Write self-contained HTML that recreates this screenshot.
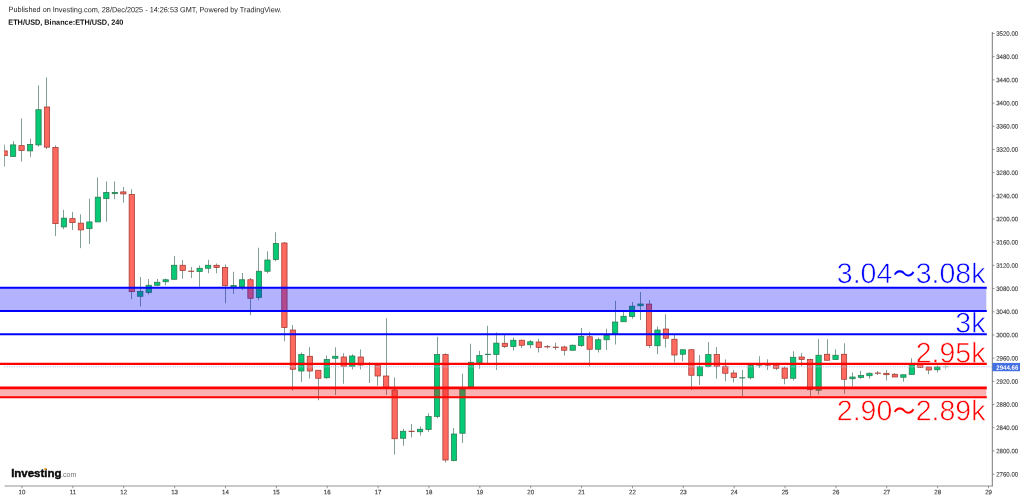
<!DOCTYPE html>
<html lang="en"><head><meta charset="utf-8"><title>ETH/USD chart</title>
<style>html,body{margin:0;padding:0;background:#fff}body{width:1024px;height:499px;overflow:hidden;position:relative;font-family:"Liberation Sans","Noto Sans CJK JP",sans-serif}svg{position:absolute;left:0;top:0;display:block}text{font-family:"Liberation Sans","Noto Sans CJK JP",sans-serif}</style></head><body>
<svg width="1024" height="499" viewBox="0 0 1024 499">
<rect width="1024" height="499" fill="#fff"/>
<clipPath id="cp"><rect x="4.1" y="30" width="987.6" height="456"/></clipPath><g id="candles" clip-path="url(#cp)">
<line x1="4.50" x2="4.50" y1="144.65" y2="166.65" stroke="#74948a" stroke-width="0.9"/>
<rect x="1.95" y="150.90" width="5.30" height="4.75" fill="#ff6a60" stroke="#a03830" stroke-width="0.75"/>
<line x1="13.50" x2="13.50" y1="141.15" y2="156.40" stroke="#74948a" stroke-width="0.9"/>
<rect x="10.43" y="144.90" width="5.30" height="11.50" fill="#06c975" stroke="#2a7a50" stroke-width="0.75"/>
<line x1="21.50" x2="21.50" y1="118.40" y2="161.65" stroke="#74948a" stroke-width="0.9"/>
<rect x="18.91" y="145.65" width="5.30" height="4.75" fill="#ff6a60" stroke="#a03830" stroke-width="0.75"/>
<line x1="30.50" x2="30.50" y1="138.65" y2="156.90" stroke="#74948a" stroke-width="0.9"/>
<rect x="27.39" y="144.40" width="5.30" height="6.50" fill="#06c975" stroke="#2a7a50" stroke-width="0.75"/>
<line x1="38.50" x2="38.50" y1="85.40" y2="146.65" stroke="#74948a" stroke-width="0.9"/>
<rect x="35.87" y="109.70" width="5.30" height="35.20" fill="#06c975" stroke="#2a7a50" stroke-width="0.75"/>
<line x1="46.50" x2="46.50" y1="77.40" y2="149.15" stroke="#74948a" stroke-width="0.9"/>
<rect x="44.34" y="107.00" width="5.30" height="40.15" fill="#ff6a60" stroke="#a03830" stroke-width="0.75"/>
<line x1="55.50" x2="55.50" y1="145.40" y2="236.15" stroke="#74948a" stroke-width="0.9"/>
<rect x="52.82" y="147.40" width="5.30" height="76.25" fill="#ff6a60" stroke="#a03830" stroke-width="0.75"/>
<line x1="63.50" x2="63.50" y1="209.90" y2="229.15" stroke="#74948a" stroke-width="0.9"/>
<rect x="61.30" y="218.15" width="5.30" height="8.75" fill="#06c975" stroke="#2a7a50" stroke-width="0.75"/>
<line x1="72.50" x2="72.50" y1="211.90" y2="229.90" stroke="#74948a" stroke-width="0.9"/>
<rect x="69.78" y="218.65" width="5.30" height="4.00" fill="#ff6a60" stroke="#a03830" stroke-width="0.75"/>
<line x1="80.50" x2="80.50" y1="214.40" y2="248.15" stroke="#74948a" stroke-width="0.9"/>
<rect x="78.26" y="223.15" width="5.30" height="6.75" fill="#ff6a60" stroke="#a03830" stroke-width="0.75"/>
<line x1="89.50" x2="89.50" y1="198.65" y2="244.15" stroke="#74948a" stroke-width="0.9"/>
<rect x="86.74" y="221.90" width="5.30" height="6.75" fill="#06c975" stroke="#2a7a50" stroke-width="0.75"/>
<line x1="97.50" x2="97.50" y1="177.40" y2="221.90" stroke="#74948a" stroke-width="0.9"/>
<rect x="95.22" y="197.15" width="5.30" height="24.75" fill="#06c975" stroke="#2a7a50" stroke-width="0.75"/>
<line x1="106.50" x2="106.50" y1="181.40" y2="221.65" stroke="#74948a" stroke-width="0.9"/>
<rect x="103.70" y="192.40" width="5.30" height="6.25" fill="#06c975" stroke="#2a7a50" stroke-width="0.75"/>
<line x1="114.50" x2="114.50" y1="181.40" y2="199.15" stroke="#74948a" stroke-width="0.9"/>
<rect x="112.18" y="192.40" width="5.30" height="1.25" fill="#06c975" stroke="#2a7a50" stroke-width="0.75"/>
<line x1="123.50" x2="123.50" y1="186.90" y2="202.65" stroke="#74948a" stroke-width="0.9"/>
<rect x="120.66" y="191.90" width="5.30" height="2.00" fill="#ff6a60" stroke="#a03830" stroke-width="0.75"/>
<line x1="131.50" x2="131.50" y1="189.15" y2="299.15" stroke="#74948a" stroke-width="0.9"/>
<rect x="129.13" y="194.40" width="5.30" height="97.25" fill="#ff6a60" stroke="#a03830" stroke-width="0.75"/>
<line x1="140.50" x2="140.50" y1="277.00" y2="306.50" stroke="#74948a" stroke-width="0.9"/>
<rect x="137.61" y="291.50" width="5.30" height="4.75" fill="#06c975" stroke="#2a7a50" stroke-width="0.75"/>
<line x1="148.50" x2="148.50" y1="279.00" y2="294.50" stroke="#74948a" stroke-width="0.9"/>
<rect x="146.09" y="285.25" width="5.30" height="7.25" fill="#06c975" stroke="#2a7a50" stroke-width="0.75"/>
<line x1="157.50" x2="157.50" y1="279.00" y2="286.25" stroke="#74948a" stroke-width="0.9"/>
<rect x="154.57" y="282.25" width="5.30" height="3.00" fill="#06c975" stroke="#2a7a50" stroke-width="0.75"/>
<line x1="165.50" x2="165.50" y1="278.50" y2="285.25" stroke="#74948a" stroke-width="0.9"/>
<rect x="163.05" y="279.75" width="5.30" height="2.00" fill="#06c975" stroke="#2a7a50" stroke-width="0.75"/>
<line x1="174.50" x2="174.50" y1="256.00" y2="280.00" stroke="#74948a" stroke-width="0.9"/>
<rect x="171.53" y="265.25" width="5.30" height="14.00" fill="#06c975" stroke="#2a7a50" stroke-width="0.75"/>
<line x1="182.50" x2="182.50" y1="260.00" y2="278.75" stroke="#74948a" stroke-width="0.9"/>
<rect x="180.01" y="265.25" width="5.30" height="5.25" fill="#ff6a60" stroke="#a03830" stroke-width="0.75"/>
<line x1="191.50" x2="191.50" y1="267.00" y2="278.00" stroke="#74948a" stroke-width="0.9"/>
<rect x="188.19" y="270.70" width="5.90" height="1.1" fill="#a03830"/>
<line x1="199.50" x2="199.50" y1="265.50" y2="286.75" stroke="#74948a" stroke-width="0.9"/>
<rect x="196.97" y="268.25" width="5.30" height="3.25" fill="#06c975" stroke="#2a7a50" stroke-width="0.75"/>
<line x1="208.50" x2="208.50" y1="259.75" y2="273.25" stroke="#74948a" stroke-width="0.9"/>
<rect x="205.45" y="265.25" width="5.30" height="3.00" fill="#06c975" stroke="#2a7a50" stroke-width="0.75"/>
<line x1="216.50" x2="216.50" y1="263.50" y2="273.25" stroke="#74948a" stroke-width="0.9"/>
<rect x="213.92" y="265.25" width="5.30" height="2.25" fill="#ff6a60" stroke="#a03830" stroke-width="0.75"/>
<line x1="225.50" x2="225.50" y1="264.50" y2="303.25" stroke="#74948a" stroke-width="0.9"/>
<rect x="222.40" y="267.50" width="5.30" height="18.25" fill="#ff6a60" stroke="#a03830" stroke-width="0.75"/>
<line x1="233.50" x2="233.50" y1="271.75" y2="293.75" stroke="#74948a" stroke-width="0.9"/>
<rect x="230.88" y="285.50" width="5.30" height="1.25" fill="#06c975" stroke="#2a7a50" stroke-width="0.75"/>
<line x1="242.50" x2="242.50" y1="273.00" y2="290.00" stroke="#74948a" stroke-width="0.9"/>
<rect x="239.36" y="279.75" width="5.30" height="7.00" fill="#06c975" stroke="#2a7a50" stroke-width="0.75"/>
<line x1="250.50" x2="250.50" y1="278.00" y2="315.25" stroke="#74948a" stroke-width="0.9"/>
<rect x="247.84" y="279.75" width="5.30" height="18.50" fill="#ff6a60" stroke="#a03830" stroke-width="0.75"/>
<line x1="258.50" x2="258.50" y1="247.75" y2="300.25" stroke="#74948a" stroke-width="0.9"/>
<rect x="256.32" y="271.25" width="5.30" height="26.25" fill="#06c975" stroke="#2a7a50" stroke-width="0.75"/>
<line x1="267.50" x2="267.50" y1="251.25" y2="273.50" stroke="#74948a" stroke-width="0.9"/>
<rect x="264.80" y="260.00" width="5.30" height="11.25" fill="#06c975" stroke="#2a7a50" stroke-width="0.75"/>
<line x1="275.50" x2="275.50" y1="232.25" y2="261.25" stroke="#74948a" stroke-width="0.9"/>
<rect x="273.28" y="243.50" width="5.30" height="16.00" fill="#06c975" stroke="#2a7a50" stroke-width="0.75"/>
<line x1="284.50" x2="284.50" y1="242.00" y2="341.25" stroke="#74948a" stroke-width="0.9"/>
<rect x="281.76" y="243.00" width="5.30" height="84.50" fill="#ff6a60" stroke="#a03830" stroke-width="0.75"/>
<line x1="292.50" x2="292.50" y1="325.00" y2="390.50" stroke="#74948a" stroke-width="0.9"/>
<rect x="290.24" y="330.00" width="5.30" height="39.25" fill="#ff6a60" stroke="#a03830" stroke-width="0.75"/>
<line x1="301.50" x2="301.50" y1="352.50" y2="382.00" stroke="#74948a" stroke-width="0.9"/>
<rect x="298.72" y="354.50" width="5.30" height="16.50" fill="#06c975" stroke="#2a7a50" stroke-width="0.75"/>
<line x1="309.50" x2="309.50" y1="347.25" y2="378.50" stroke="#74948a" stroke-width="0.9"/>
<rect x="307.19" y="356.25" width="5.30" height="14.75" fill="#ff6a60" stroke="#a03830" stroke-width="0.75"/>
<line x1="318.50" x2="318.50" y1="370.25" y2="400.25" stroke="#74948a" stroke-width="0.9"/>
<rect x="315.67" y="370.25" width="5.30" height="8.00" fill="#ff6a60" stroke="#a03830" stroke-width="0.75"/>
<line x1="326.50" x2="326.50" y1="355.50" y2="378.75" stroke="#74948a" stroke-width="0.9"/>
<rect x="324.15" y="359.50" width="5.30" height="18.25" fill="#06c975" stroke="#2a7a50" stroke-width="0.75"/>
<line x1="335.50" x2="335.50" y1="347.25" y2="395.00" stroke="#74948a" stroke-width="0.9"/>
<rect x="332.63" y="356.25" width="5.30" height="2.00" fill="#06c975" stroke="#2a7a50" stroke-width="0.75"/>
<line x1="343.50" x2="343.50" y1="353.25" y2="383.75" stroke="#74948a" stroke-width="0.9"/>
<rect x="341.11" y="357.00" width="5.30" height="9.25" fill="#ff6a60" stroke="#a03830" stroke-width="0.75"/>
<line x1="352.50" x2="352.50" y1="354.25" y2="369.50" stroke="#74948a" stroke-width="0.9"/>
<rect x="349.59" y="356.00" width="5.30" height="10.25" fill="#06c975" stroke="#2a7a50" stroke-width="0.75"/>
<line x1="360.50" x2="360.50" y1="349.50" y2="369.50" stroke="#74948a" stroke-width="0.9"/>
<rect x="358.07" y="357.00" width="5.30" height="8.00" fill="#ff6a60" stroke="#a03830" stroke-width="0.75"/>
<line x1="369.50" x2="369.50" y1="362.00" y2="383.00" stroke="#74948a" stroke-width="0.9"/>
<rect x="366.25" y="363.70" width="5.90" height="1.1" fill="#a03830"/>
<line x1="377.50" x2="377.50" y1="363.00" y2="385.75" stroke="#74948a" stroke-width="0.9"/>
<rect x="375.03" y="365.00" width="5.30" height="11.00" fill="#ff6a60" stroke="#a03830" stroke-width="0.75"/>
<line x1="386.50" x2="386.50" y1="318.25" y2="395.00" stroke="#74948a" stroke-width="0.9"/>
<rect x="383.50" y="376.00" width="5.30" height="11.50" fill="#ff6a60" stroke="#a03830" stroke-width="0.75"/>
<line x1="394.50" x2="394.50" y1="377.50" y2="454.50" stroke="#74948a" stroke-width="0.9"/>
<rect x="391.98" y="390.00" width="5.30" height="48.75" fill="#ff6a60" stroke="#a03830" stroke-width="0.75"/>
<line x1="403.50" x2="403.50" y1="428.75" y2="445.75" stroke="#74948a" stroke-width="0.9"/>
<rect x="400.46" y="431.25" width="5.30" height="7.00" fill="#06c975" stroke="#2a7a50" stroke-width="0.75"/>
<line x1="411.50" x2="411.50" y1="424.00" y2="437.50" stroke="#74948a" stroke-width="0.9"/>
<rect x="408.64" y="430.82" width="5.90" height="1.1" fill="#a03830"/>
<line x1="420.50" x2="420.50" y1="426.50" y2="435.50" stroke="#74948a" stroke-width="0.9"/>
<rect x="417.42" y="429.25" width="5.30" height="2.50" fill="#06c975" stroke="#2a7a50" stroke-width="0.75"/>
<line x1="428.50" x2="428.50" y1="413.25" y2="431.75" stroke="#74948a" stroke-width="0.9"/>
<rect x="425.90" y="416.50" width="5.30" height="13.00" fill="#06c975" stroke="#2a7a50" stroke-width="0.75"/>
<line x1="437.50" x2="437.50" y1="336.75" y2="418.25" stroke="#74948a" stroke-width="0.9"/>
<rect x="434.38" y="354.50" width="5.30" height="62.00" fill="#06c975" stroke="#2a7a50" stroke-width="0.75"/>
<line x1="445.50" x2="445.50" y1="353.25" y2="462.50" stroke="#74948a" stroke-width="0.9"/>
<rect x="442.86" y="354.50" width="5.30" height="105.50" fill="#ff6a60" stroke="#a03830" stroke-width="0.75"/>
<line x1="453.50" x2="453.50" y1="428.00" y2="461.25" stroke="#74948a" stroke-width="0.9"/>
<rect x="451.34" y="434.00" width="5.30" height="26.50" fill="#06c975" stroke="#2a7a50" stroke-width="0.75"/>
<line x1="462.50" x2="462.50" y1="373.75" y2="443.00" stroke="#74948a" stroke-width="0.9"/>
<rect x="459.82" y="389.00" width="5.30" height="44.25" fill="#06c975" stroke="#2a7a50" stroke-width="0.75"/>
<line x1="470.50" x2="470.50" y1="343.75" y2="387.00" stroke="#74948a" stroke-width="0.9"/>
<rect x="468.30" y="362.25" width="5.30" height="24.75" fill="#06c975" stroke="#2a7a50" stroke-width="0.75"/>
<line x1="479.50" x2="479.50" y1="350.75" y2="368.75" stroke="#74948a" stroke-width="0.9"/>
<rect x="476.77" y="355.50" width="5.30" height="7.25" fill="#06c975" stroke="#2a7a50" stroke-width="0.75"/>
<line x1="487.50" x2="487.50" y1="325.75" y2="365.00" stroke="#74948a" stroke-width="0.9"/>
<rect x="484.95" y="353.82" width="5.90" height="1.1" fill="#2a7a50"/>
<line x1="496.50" x2="496.50" y1="332.50" y2="370.00" stroke="#74948a" stroke-width="0.9"/>
<rect x="493.73" y="343.10" width="5.30" height="11.40" fill="#06c975" stroke="#2a7a50" stroke-width="0.75"/>
<line x1="504.50" x2="504.50" y1="335.00" y2="348.00" stroke="#74948a" stroke-width="0.9"/>
<rect x="502.21" y="343.25" width="5.30" height="3.25" fill="#ff6a60" stroke="#a03830" stroke-width="0.75"/>
<line x1="513.50" x2="513.50" y1="337.50" y2="350.50" stroke="#74948a" stroke-width="0.9"/>
<rect x="510.69" y="340.25" width="5.30" height="6.25" fill="#06c975" stroke="#2a7a50" stroke-width="0.75"/>
<line x1="521.50" x2="521.50" y1="339.50" y2="348.00" stroke="#74948a" stroke-width="0.9"/>
<rect x="519.17" y="340.25" width="5.30" height="5.00" fill="#ff6a60" stroke="#a03830" stroke-width="0.75"/>
<line x1="530.50" x2="530.50" y1="340.00" y2="348.25" stroke="#74948a" stroke-width="0.9"/>
<rect x="527.65" y="341.75" width="5.30" height="3.00" fill="#06c975" stroke="#2a7a50" stroke-width="0.75"/>
<line x1="538.50" x2="538.50" y1="339.00" y2="352.50" stroke="#74948a" stroke-width="0.9"/>
<rect x="536.13" y="342.00" width="5.30" height="5.50" fill="#ff6a60" stroke="#a03830" stroke-width="0.75"/>
<line x1="547.50" x2="547.50" y1="345.00" y2="348.50" stroke="#74948a" stroke-width="0.9"/>
<rect x="544.31" y="346.20" width="5.90" height="1.1" fill="#a03830"/>
<line x1="555.50" x2="555.50" y1="342.50" y2="350.00" stroke="#74948a" stroke-width="0.9"/>
<rect x="552.79" y="346.70" width="5.90" height="1.1" fill="#a03830"/>
<line x1="564.50" x2="564.50" y1="345.50" y2="355.50" stroke="#74948a" stroke-width="0.9"/>
<rect x="561.56" y="347.00" width="5.30" height="3.25" fill="#ff6a60" stroke="#a03830" stroke-width="0.75"/>
<line x1="572.50" x2="572.50" y1="344.50" y2="350.25" stroke="#74948a" stroke-width="0.9"/>
<rect x="570.04" y="345.25" width="5.30" height="5.00" fill="#06c975" stroke="#2a7a50" stroke-width="0.75"/>
<line x1="581.50" x2="581.50" y1="328.00" y2="347.00" stroke="#74948a" stroke-width="0.9"/>
<rect x="578.52" y="336.50" width="5.30" height="9.00" fill="#06c975" stroke="#2a7a50" stroke-width="0.75"/>
<line x1="589.50" x2="589.50" y1="331.75" y2="366.25" stroke="#74948a" stroke-width="0.9"/>
<rect x="587.00" y="336.75" width="5.30" height="12.50" fill="#ff6a60" stroke="#a03830" stroke-width="0.75"/>
<line x1="598.50" x2="598.50" y1="337.50" y2="352.50" stroke="#74948a" stroke-width="0.9"/>
<rect x="595.48" y="339.75" width="5.30" height="9.50" fill="#06c975" stroke="#2a7a50" stroke-width="0.75"/>
<line x1="606.50" x2="606.50" y1="328.75" y2="350.00" stroke="#74948a" stroke-width="0.9"/>
<rect x="603.96" y="335.50" width="5.30" height="4.25" fill="#06c975" stroke="#2a7a50" stroke-width="0.75"/>
<line x1="615.50" x2="615.50" y1="300.75" y2="344.50" stroke="#74948a" stroke-width="0.9"/>
<rect x="612.44" y="322.00" width="5.30" height="11.25" fill="#06c975" stroke="#2a7a50" stroke-width="0.75"/>
<line x1="623.50" x2="623.50" y1="310.00" y2="321.75" stroke="#74948a" stroke-width="0.9"/>
<rect x="620.92" y="316.25" width="5.30" height="5.50" fill="#06c975" stroke="#2a7a50" stroke-width="0.75"/>
<line x1="632.50" x2="632.50" y1="302.00" y2="318.75" stroke="#74948a" stroke-width="0.9"/>
<rect x="629.40" y="306.20" width="5.30" height="10.30" fill="#06c975" stroke="#2a7a50" stroke-width="0.75"/>
<line x1="640.50" x2="640.50" y1="292.00" y2="320.00" stroke="#74948a" stroke-width="0.9"/>
<rect x="637.88" y="304.00" width="5.30" height="1.75" fill="#06c975" stroke="#2a7a50" stroke-width="0.75"/>
<line x1="649.50" x2="649.50" y1="300.00" y2="348.00" stroke="#74948a" stroke-width="0.9"/>
<rect x="646.35" y="304.10" width="5.30" height="41.40" fill="#ff6a60" stroke="#a03830" stroke-width="0.75"/>
<line x1="657.50" x2="657.50" y1="326.50" y2="354.00" stroke="#74948a" stroke-width="0.9"/>
<rect x="654.83" y="330.00" width="5.30" height="15.75" fill="#06c975" stroke="#2a7a50" stroke-width="0.75"/>
<line x1="665.50" x2="665.50" y1="314.25" y2="347.50" stroke="#74948a" stroke-width="0.9"/>
<rect x="663.31" y="329.00" width="5.30" height="9.25" fill="#ff6a60" stroke="#a03830" stroke-width="0.75"/>
<line x1="674.50" x2="674.50" y1="335.00" y2="362.50" stroke="#74948a" stroke-width="0.9"/>
<rect x="671.79" y="339.25" width="5.30" height="15.75" fill="#ff6a60" stroke="#a03830" stroke-width="0.75"/>
<line x1="682.50" x2="682.50" y1="349.75" y2="361.25" stroke="#74948a" stroke-width="0.9"/>
<rect x="680.27" y="349.75" width="5.30" height="4.50" fill="#06c975" stroke="#2a7a50" stroke-width="0.75"/>
<line x1="691.50" x2="691.50" y1="349.00" y2="390.00" stroke="#74948a" stroke-width="0.9"/>
<rect x="688.75" y="349.75" width="5.30" height="25.50" fill="#ff6a60" stroke="#a03830" stroke-width="0.75"/>
<line x1="699.50" x2="699.50" y1="355.00" y2="385.00" stroke="#74948a" stroke-width="0.9"/>
<rect x="697.23" y="366.75" width="5.30" height="9.00" fill="#06c975" stroke="#2a7a50" stroke-width="0.75"/>
<line x1="708.50" x2="708.50" y1="342.00" y2="367.50" stroke="#74948a" stroke-width="0.9"/>
<rect x="705.71" y="354.50" width="5.30" height="12.00" fill="#06c975" stroke="#2a7a50" stroke-width="0.75"/>
<line x1="716.50" x2="716.50" y1="347.00" y2="378.75" stroke="#74948a" stroke-width="0.9"/>
<rect x="714.19" y="354.50" width="5.30" height="11.75" fill="#ff6a60" stroke="#a03830" stroke-width="0.75"/>
<line x1="725.50" x2="725.50" y1="359.40" y2="381.25" stroke="#74948a" stroke-width="0.9"/>
<rect x="722.66" y="366.25" width="5.30" height="7.00" fill="#ff6a60" stroke="#a03830" stroke-width="0.75"/>
<line x1="733.50" x2="733.50" y1="370.00" y2="382.50" stroke="#74948a" stroke-width="0.9"/>
<rect x="731.14" y="373.00" width="5.30" height="4.50" fill="#ff6a60" stroke="#a03830" stroke-width="0.75"/>
<line x1="742.50" x2="742.50" y1="370.00" y2="396.25" stroke="#74948a" stroke-width="0.9"/>
<rect x="739.32" y="377.32" width="5.90" height="1.1" fill="#2a7a50"/>
<line x1="750.50" x2="750.50" y1="364.50" y2="379.50" stroke="#74948a" stroke-width="0.9"/>
<rect x="748.10" y="365.50" width="5.30" height="12.25" fill="#06c975" stroke="#2a7a50" stroke-width="0.75"/>
<line x1="759.50" x2="759.50" y1="356.25" y2="368.00" stroke="#74948a" stroke-width="0.9"/>
<rect x="756.28" y="364.45" width="5.90" height="1.1" fill="#2a7a50"/>
<line x1="767.50" x2="767.50" y1="359.25" y2="370.00" stroke="#74948a" stroke-width="0.9"/>
<rect x="764.76" y="364.45" width="5.90" height="1.1" fill="#a03830"/>
<line x1="776.50" x2="776.50" y1="363.75" y2="370.00" stroke="#74948a" stroke-width="0.9"/>
<rect x="773.54" y="365.00" width="5.30" height="3.25" fill="#ff6a60" stroke="#a03830" stroke-width="0.75"/>
<line x1="784.50" x2="784.50" y1="366.25" y2="384.25" stroke="#74948a" stroke-width="0.9"/>
<rect x="782.02" y="368.00" width="5.30" height="10.25" fill="#ff6a60" stroke="#a03830" stroke-width="0.75"/>
<line x1="793.50" x2="793.50" y1="351.25" y2="380.50" stroke="#74948a" stroke-width="0.9"/>
<rect x="790.50" y="357.25" width="5.30" height="21.00" fill="#06c975" stroke="#2a7a50" stroke-width="0.75"/>
<line x1="801.50" x2="801.50" y1="353.00" y2="366.25" stroke="#74948a" stroke-width="0.9"/>
<rect x="798.98" y="357.00" width="5.30" height="2.50" fill="#ff6a60" stroke="#a03830" stroke-width="0.75"/>
<line x1="810.50" x2="810.50" y1="358.50" y2="396.25" stroke="#74948a" stroke-width="0.9"/>
<rect x="807.45" y="359.50" width="5.30" height="30.20" fill="#ff6a60" stroke="#a03830" stroke-width="0.75"/>
<line x1="818.50" x2="818.50" y1="339.25" y2="394.50" stroke="#74948a" stroke-width="0.9"/>
<rect x="815.93" y="355.25" width="5.30" height="34.95" fill="#06c975" stroke="#2a7a50" stroke-width="0.75"/>
<line x1="827.50" x2="827.50" y1="339.25" y2="360.25" stroke="#74948a" stroke-width="0.9"/>
<rect x="824.41" y="354.25" width="5.30" height="6.00" fill="#ff6a60" stroke="#a03830" stroke-width="0.75"/>
<line x1="835.50" x2="835.50" y1="349.25" y2="359.50" stroke="#74948a" stroke-width="0.9"/>
<rect x="832.89" y="355.25" width="5.30" height="4.25" fill="#06c975" stroke="#2a7a50" stroke-width="0.75"/>
<line x1="844.50" x2="844.50" y1="343.25" y2="393.75" stroke="#74948a" stroke-width="0.9"/>
<rect x="841.37" y="354.25" width="5.30" height="25.00" fill="#ff6a60" stroke="#a03830" stroke-width="0.75"/>
<line x1="852.50" x2="852.50" y1="372.50" y2="386.25" stroke="#74948a" stroke-width="0.9"/>
<rect x="849.85" y="377.00" width="5.30" height="1.75" fill="#06c975" stroke="#2a7a50" stroke-width="0.75"/>
<line x1="860.50" x2="860.50" y1="370.75" y2="378.75" stroke="#74948a" stroke-width="0.9"/>
<rect x="858.33" y="375.50" width="5.30" height="2.00" fill="#06c975" stroke="#2a7a50" stroke-width="0.75"/>
<line x1="869.50" x2="869.50" y1="372.50" y2="378.75" stroke="#74948a" stroke-width="0.9"/>
<rect x="866.81" y="373.25" width="5.30" height="2.50" fill="#06c975" stroke="#2a7a50" stroke-width="0.75"/>
<line x1="877.50" x2="877.50" y1="371.00" y2="375.00" stroke="#74948a" stroke-width="0.9"/>
<rect x="874.99" y="372.60" width="5.90" height="1.1" fill="#a03830"/>
<line x1="886.50" x2="886.50" y1="370.00" y2="380.50" stroke="#74948a" stroke-width="0.9"/>
<rect x="883.77" y="373.30" width="5.30" height="1.40" fill="#ff6a60" stroke="#a03830" stroke-width="0.75"/>
<line x1="894.50" x2="894.50" y1="373.00" y2="377.00" stroke="#74948a" stroke-width="0.9"/>
<rect x="892.25" y="374.25" width="5.30" height="2.75" fill="#ff6a60" stroke="#a03830" stroke-width="0.75"/>
<line x1="903.50" x2="903.50" y1="374.75" y2="381.75" stroke="#74948a" stroke-width="0.9"/>
<rect x="900.72" y="374.75" width="5.30" height="2.50" fill="#06c975" stroke="#2a7a50" stroke-width="0.75"/>
<line x1="911.50" x2="911.50" y1="358.25" y2="374.50" stroke="#74948a" stroke-width="0.9"/>
<rect x="909.20" y="364.75" width="5.30" height="9.75" fill="#06c975" stroke="#2a7a50" stroke-width="0.75"/>
<line x1="920.50" x2="920.50" y1="364.50" y2="367.50" stroke="#74948a" stroke-width="0.9"/>
<rect x="917.68" y="364.50" width="5.30" height="3.00" fill="#ff6a60" stroke="#a03830" stroke-width="0.75"/>
<line x1="928.50" x2="928.50" y1="367.00" y2="374.25" stroke="#74948a" stroke-width="0.9"/>
<rect x="926.16" y="367.00" width="5.30" height="3.00" fill="#ff6a60" stroke="#a03830" stroke-width="0.75"/>
<line x1="937.50" x2="937.50" y1="365.50" y2="372.50" stroke="#74948a" stroke-width="0.9"/>
<rect x="934.64" y="367.00" width="5.30" height="2.75" fill="#06c975" stroke="#2a7a50" stroke-width="0.75"/>
<line x1="945.50" x2="945.50" y1="365.00" y2="370.00" stroke="#74948a" stroke-width="0.9" opacity="0.45"/>
<rect x="942.82" y="366.20" width="5.90" height="1.1" fill="#2a7a50" opacity="0.45"/>
</g>
<text transform="translate(985.40 283.00) rotate(0.03) scale(1 1.0)" font-size="28.5" fill="#0000ff" text-anchor="end" stroke="#fff" stroke-width="0.6">3.04<tspan font-size="22.2" dx="0.6" dy="-1.3" stroke="#0000ff" stroke-width="0.1">～</tspan><tspan dx="0.6" dy="1.3">3.08k</tspan></text>
<text transform="translate(985.40 332.50) rotate(0.03) scale(1 1.0)" font-size="28.5" fill="#0000ff" text-anchor="end" stroke="#fff" stroke-width="0.6">3k</text>
<text transform="translate(985.40 362.50) rotate(0.03) scale(1 1.0)" font-size="28.5" fill="#ff0000" text-anchor="end" stroke="#fff" stroke-width="0.6">2.95k</text>
<text transform="translate(985.40 420.30) rotate(0.03) scale(1 1.0)" font-size="28.5" fill="#ff0000" text-anchor="end" stroke="#fff" stroke-width="0.6">2.90<tspan font-size="22.2" dx="0.6" dy="-1.3" stroke="#ff0000" stroke-width="0.1">～</tspan><tspan dx="0.6" dy="1.3">2.89k</tspan></text>
<line x1="4.2" x2="991.6" y1="366.8" y2="366.8" stroke="#b3c4f1" stroke-width="0.9" stroke-dasharray="1.4 1.0"/>
<rect x="0" y="287.6" width="986.3" height="23.4" fill="#0000ff" fill-opacity="0.3"/>
<rect x="0" y="387.6" width="986.3" height="9.7" fill="#ee0000" fill-opacity="0.3"/>
<line x1="0" x2="986.8" y1="287.75" y2="287.75" stroke="#0000ff" stroke-width="2.2"/>
<line x1="0" x2="986.8" y1="311" y2="311" stroke="#0000ff" stroke-width="2.1"/>
<line x1="0" x2="986.8" y1="334.2" y2="334.2" stroke="#0000ff" stroke-width="2.1"/>
<line x1="0" x2="986.8" y1="363.8" y2="363.8" stroke="#ff0000" stroke-width="2.3"/>
<line x1="0" x2="986.8" y1="387.85" y2="387.85" stroke="#ff0000" stroke-width="2.7"/>
<line x1="0" x2="986.8" y1="397.3" y2="397.3" stroke="#ff0000" stroke-width="2.0"/>
<line x1="992.3" x2="992.3" y1="32" y2="486.4" stroke="#6b6b6b" stroke-width="0.9"/>
<line x1="4.5" x2="992.7" y1="486" y2="486" stroke="#7a7a7a" stroke-width="0.8"/>
<line x1="992.3" x2="994.5" y1="33.50" y2="33.50" stroke="#6b6b6b" stroke-width="0.7"/>
<text transform="translate(996.20 35.80) rotate(0.03) scale(1 1.04)" font-size="6.1" fill="#3c3c3c" stroke="#3c3c3c" stroke-width="0.12">3520.00</text>
<line x1="992.3" x2="994.5" y1="56.69" y2="56.69" stroke="#6b6b6b" stroke-width="0.7"/>
<text transform="translate(996.20 58.99) rotate(0.03) scale(1 1.04)" font-size="6.1" fill="#3c3c3c" stroke="#3c3c3c" stroke-width="0.12">3480.00</text>
<line x1="992.3" x2="994.5" y1="79.88" y2="79.88" stroke="#6b6b6b" stroke-width="0.7"/>
<text transform="translate(996.20 82.18) rotate(0.03) scale(1 1.04)" font-size="6.1" fill="#3c3c3c" stroke="#3c3c3c" stroke-width="0.12">3440.00</text>
<line x1="992.3" x2="994.5" y1="103.07" y2="103.07" stroke="#6b6b6b" stroke-width="0.7"/>
<text transform="translate(996.20 105.37) rotate(0.03) scale(1 1.04)" font-size="6.1" fill="#3c3c3c" stroke="#3c3c3c" stroke-width="0.12">3400.00</text>
<line x1="992.3" x2="994.5" y1="126.26" y2="126.26" stroke="#6b6b6b" stroke-width="0.7"/>
<text transform="translate(996.20 128.56) rotate(0.03) scale(1 1.04)" font-size="6.1" fill="#3c3c3c" stroke="#3c3c3c" stroke-width="0.12">3360.00</text>
<line x1="992.3" x2="994.5" y1="149.45" y2="149.45" stroke="#6b6b6b" stroke-width="0.7"/>
<text transform="translate(996.20 151.75) rotate(0.03) scale(1 1.04)" font-size="6.1" fill="#3c3c3c" stroke="#3c3c3c" stroke-width="0.12">3320.00</text>
<line x1="992.3" x2="994.5" y1="172.64" y2="172.64" stroke="#6b6b6b" stroke-width="0.7"/>
<text transform="translate(996.20 174.94) rotate(0.03) scale(1 1.04)" font-size="6.1" fill="#3c3c3c" stroke="#3c3c3c" stroke-width="0.12">3280.00</text>
<line x1="992.3" x2="994.5" y1="195.83" y2="195.83" stroke="#6b6b6b" stroke-width="0.7"/>
<text transform="translate(996.20 198.13) rotate(0.03) scale(1 1.04)" font-size="6.1" fill="#3c3c3c" stroke="#3c3c3c" stroke-width="0.12">3240.00</text>
<line x1="992.3" x2="994.5" y1="219.02" y2="219.02" stroke="#6b6b6b" stroke-width="0.7"/>
<text transform="translate(996.20 221.32) rotate(0.03) scale(1 1.04)" font-size="6.1" fill="#3c3c3c" stroke="#3c3c3c" stroke-width="0.12">3200.00</text>
<line x1="992.3" x2="994.5" y1="242.21" y2="242.21" stroke="#6b6b6b" stroke-width="0.7"/>
<text transform="translate(996.20 244.51) rotate(0.03) scale(1 1.04)" font-size="6.1" fill="#3c3c3c" stroke="#3c3c3c" stroke-width="0.12">3160.00</text>
<line x1="992.3" x2="994.5" y1="265.40" y2="265.40" stroke="#6b6b6b" stroke-width="0.7"/>
<text transform="translate(996.20 267.70) rotate(0.03) scale(1 1.04)" font-size="6.1" fill="#3c3c3c" stroke="#3c3c3c" stroke-width="0.12">3120.00</text>
<line x1="992.3" x2="994.5" y1="288.59" y2="288.59" stroke="#6b6b6b" stroke-width="0.7"/>
<text transform="translate(996.20 290.89) rotate(0.03) scale(1 1.04)" font-size="6.1" fill="#3c3c3c" stroke="#3c3c3c" stroke-width="0.12">3080.00</text>
<line x1="992.3" x2="994.5" y1="311.78" y2="311.78" stroke="#6b6b6b" stroke-width="0.7"/>
<text transform="translate(996.20 314.08) rotate(0.03) scale(1 1.04)" font-size="6.1" fill="#3c3c3c" stroke="#3c3c3c" stroke-width="0.12">3040.00</text>
<line x1="992.3" x2="994.5" y1="334.97" y2="334.97" stroke="#6b6b6b" stroke-width="0.7"/>
<text transform="translate(996.20 337.27) rotate(0.03) scale(1 1.04)" font-size="6.1" fill="#3c3c3c" stroke="#3c3c3c" stroke-width="0.12">3000.00</text>
<line x1="992.3" x2="994.5" y1="358.16" y2="358.16" stroke="#6b6b6b" stroke-width="0.7"/>
<text transform="translate(996.20 360.46) rotate(0.03) scale(1 1.04)" font-size="6.1" fill="#3c3c3c" stroke="#3c3c3c" stroke-width="0.12">2960.00</text>
<line x1="992.3" x2="994.5" y1="381.35" y2="381.35" stroke="#6b6b6b" stroke-width="0.7"/>
<text transform="translate(996.20 383.65) rotate(0.03) scale(1 1.04)" font-size="6.1" fill="#3c3c3c" stroke="#3c3c3c" stroke-width="0.12">2920.00</text>
<line x1="992.3" x2="994.5" y1="404.54" y2="404.54" stroke="#6b6b6b" stroke-width="0.7"/>
<text transform="translate(996.20 406.84) rotate(0.03) scale(1 1.04)" font-size="6.1" fill="#3c3c3c" stroke="#3c3c3c" stroke-width="0.12">2880.00</text>
<line x1="992.3" x2="994.5" y1="427.73" y2="427.73" stroke="#6b6b6b" stroke-width="0.7"/>
<text transform="translate(996.20 430.03) rotate(0.03) scale(1 1.04)" font-size="6.1" fill="#3c3c3c" stroke="#3c3c3c" stroke-width="0.12">2840.00</text>
<line x1="992.3" x2="994.5" y1="450.92" y2="450.92" stroke="#6b6b6b" stroke-width="0.7"/>
<text transform="translate(996.20 453.22) rotate(0.03) scale(1 1.04)" font-size="6.1" fill="#3c3c3c" stroke="#3c3c3c" stroke-width="0.12">2800.00</text>
<line x1="992.3" x2="994.5" y1="474.11" y2="474.11" stroke="#6b6b6b" stroke-width="0.7"/>
<text transform="translate(996.20 476.41) rotate(0.03) scale(1 1.04)" font-size="6.1" fill="#3c3c3c" stroke="#3c3c3c" stroke-width="0.12">2760.00</text>
<line x1="22.00" x2="22.00" y1="486" y2="488.3" stroke="#6b6b6b" stroke-width="0.7"/>
<text transform="translate(22.00 494.30) rotate(0.03) scale(1 1.04)" font-size="6.1" fill="#3c3c3c" stroke="#3c3c3c" stroke-width="0.15" text-anchor="middle">10</text>
<line x1="72.87" x2="72.87" y1="486" y2="488.3" stroke="#6b6b6b" stroke-width="0.7"/>
<text transform="translate(72.87 494.30) rotate(0.03) scale(1 1.04)" font-size="6.1" fill="#3c3c3c" stroke="#3c3c3c" stroke-width="0.15" text-anchor="middle">11</text>
<line x1="123.74" x2="123.74" y1="486" y2="488.3" stroke="#6b6b6b" stroke-width="0.7"/>
<text transform="translate(123.74 494.30) rotate(0.03) scale(1 1.04)" font-size="6.1" fill="#3c3c3c" stroke="#3c3c3c" stroke-width="0.15" text-anchor="middle">12</text>
<line x1="174.61" x2="174.61" y1="486" y2="488.3" stroke="#6b6b6b" stroke-width="0.7"/>
<text transform="translate(174.61 494.30) rotate(0.03) scale(1 1.04)" font-size="6.1" fill="#3c3c3c" stroke="#3c3c3c" stroke-width="0.15" text-anchor="middle">13</text>
<line x1="225.48" x2="225.48" y1="486" y2="488.3" stroke="#6b6b6b" stroke-width="0.7"/>
<text transform="translate(225.48 494.30) rotate(0.03) scale(1 1.04)" font-size="6.1" fill="#3c3c3c" stroke="#3c3c3c" stroke-width="0.15" text-anchor="middle">14</text>
<line x1="276.35" x2="276.35" y1="486" y2="488.3" stroke="#6b6b6b" stroke-width="0.7"/>
<text transform="translate(276.35 494.30) rotate(0.03) scale(1 1.04)" font-size="6.1" fill="#3c3c3c" stroke="#3c3c3c" stroke-width="0.15" text-anchor="middle">15</text>
<line x1="327.22" x2="327.22" y1="486" y2="488.3" stroke="#6b6b6b" stroke-width="0.7"/>
<text transform="translate(327.22 494.30) rotate(0.03) scale(1 1.04)" font-size="6.1" fill="#3c3c3c" stroke="#3c3c3c" stroke-width="0.15" text-anchor="middle">16</text>
<line x1="378.09" x2="378.09" y1="486" y2="488.3" stroke="#6b6b6b" stroke-width="0.7"/>
<text transform="translate(378.09 494.30) rotate(0.03) scale(1 1.04)" font-size="6.1" fill="#3c3c3c" stroke="#3c3c3c" stroke-width="0.15" text-anchor="middle">17</text>
<line x1="428.96" x2="428.96" y1="486" y2="488.3" stroke="#6b6b6b" stroke-width="0.7"/>
<text transform="translate(428.96 494.30) rotate(0.03) scale(1 1.04)" font-size="6.1" fill="#3c3c3c" stroke="#3c3c3c" stroke-width="0.15" text-anchor="middle">18</text>
<line x1="479.83" x2="479.83" y1="486" y2="488.3" stroke="#6b6b6b" stroke-width="0.7"/>
<text transform="translate(479.83 494.30) rotate(0.03) scale(1 1.04)" font-size="6.1" fill="#3c3c3c" stroke="#3c3c3c" stroke-width="0.15" text-anchor="middle">19</text>
<line x1="530.70" x2="530.70" y1="486" y2="488.3" stroke="#6b6b6b" stroke-width="0.7"/>
<text transform="translate(530.70 494.30) rotate(0.03) scale(1 1.04)" font-size="6.1" fill="#3c3c3c" stroke="#3c3c3c" stroke-width="0.15" text-anchor="middle">20</text>
<line x1="581.57" x2="581.57" y1="486" y2="488.3" stroke="#6b6b6b" stroke-width="0.7"/>
<text transform="translate(581.57 494.30) rotate(0.03) scale(1 1.04)" font-size="6.1" fill="#3c3c3c" stroke="#3c3c3c" stroke-width="0.15" text-anchor="middle">21</text>
<line x1="632.44" x2="632.44" y1="486" y2="488.3" stroke="#6b6b6b" stroke-width="0.7"/>
<text transform="translate(632.44 494.30) rotate(0.03) scale(1 1.04)" font-size="6.1" fill="#3c3c3c" stroke="#3c3c3c" stroke-width="0.15" text-anchor="middle">22</text>
<line x1="683.31" x2="683.31" y1="486" y2="488.3" stroke="#6b6b6b" stroke-width="0.7"/>
<text transform="translate(683.31 494.30) rotate(0.03) scale(1 1.04)" font-size="6.1" fill="#3c3c3c" stroke="#3c3c3c" stroke-width="0.15" text-anchor="middle">23</text>
<line x1="734.18" x2="734.18" y1="486" y2="488.3" stroke="#6b6b6b" stroke-width="0.7"/>
<text transform="translate(734.18 494.30) rotate(0.03) scale(1 1.04)" font-size="6.1" fill="#3c3c3c" stroke="#3c3c3c" stroke-width="0.15" text-anchor="middle">24</text>
<line x1="785.05" x2="785.05" y1="486" y2="488.3" stroke="#6b6b6b" stroke-width="0.7"/>
<text transform="translate(785.05 494.30) rotate(0.03) scale(1 1.04)" font-size="6.1" fill="#3c3c3c" stroke="#3c3c3c" stroke-width="0.15" text-anchor="middle">25</text>
<line x1="835.92" x2="835.92" y1="486" y2="488.3" stroke="#6b6b6b" stroke-width="0.7"/>
<text transform="translate(835.92 494.30) rotate(0.03) scale(1 1.04)" font-size="6.1" fill="#3c3c3c" stroke="#3c3c3c" stroke-width="0.15" text-anchor="middle">26</text>
<line x1="886.79" x2="886.79" y1="486" y2="488.3" stroke="#6b6b6b" stroke-width="0.7"/>
<text transform="translate(886.79 494.30) rotate(0.03) scale(1 1.04)" font-size="6.1" fill="#3c3c3c" stroke="#3c3c3c" stroke-width="0.15" text-anchor="middle">27</text>
<line x1="937.66" x2="937.66" y1="486" y2="488.3" stroke="#6b6b6b" stroke-width="0.7"/>
<text transform="translate(937.66 494.30) rotate(0.03) scale(1 1.04)" font-size="6.1" fill="#3c3c3c" stroke="#3c3c3c" stroke-width="0.15" text-anchor="middle">28</text>
<line x1="988.53" x2="988.53" y1="486" y2="488.3" stroke="#6b6b6b" stroke-width="0.7"/>
<text transform="translate(988.53 494.30) rotate(0.03) scale(1 1.04)" font-size="6.1" fill="#3c3c3c" stroke="#3c3c3c" stroke-width="0.15" text-anchor="middle">29</text>
<rect x="992.4" y="362.9" width="27.6" height="8.3" fill="#4470e4"/>
<text transform="translate(996.30 369.75) rotate(0.03) scale(1 1.04)" font-size="6.1" font-weight="bold" fill="#fff">2944.66</text>
<text transform="translate(8.60 12.10) rotate(0.03) scale(1 1.04)" font-size="7.3" fill="#1e1e1e">Published on Investing.com, 28/Dec/2025 - 14:26:53 GMT, Powered by TradingView.</text>
<text transform="translate(8.30 24.70) rotate(0.03) scale(1 1.04)" font-size="7.3" font-weight="bold" fill="#111">ETH/USD, Binance:ETH/USD, 240</text>
<text x="11.2" y="477.0" font-size="11.5" font-weight="bold" fill="#0c0c0c" stroke="#0c0c0c" stroke-width="0.45" letter-spacing="-0.03">Investing</text>
<text transform="translate(61.0 477.0) scale(0.87 1)" font-size="8.1" fill="#707070">.com</text>
<circle cx="45.4" cy="468.8" r="1.15" fill="#f7a21b"/>
</svg></body></html>
